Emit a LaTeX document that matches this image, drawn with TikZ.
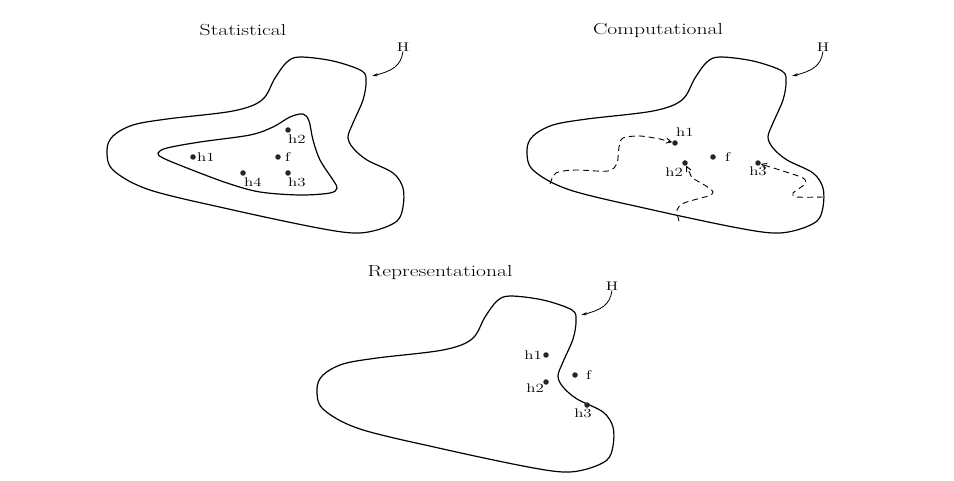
\documentclass[tikz,border=0pt]{standalone}
\usetikzlibrary{arrows.meta}
\newcommand{\myw}[1]{\scalebox{1.35}[1]{#1}}
\begin{document}
\begin{tikzpicture}[x=1pt,y=-1pt,
  outline/.style={line width=1.2pt, line join=round},
  dotst/.style={circle,fill=black!85,inner sep=0pt,minimum size=5.5pt},
  lbl/.style={font=\fontsize{12.5}{14}\selectfont, inner sep=1pt},
  ttl/.style={font=\fontsize{16}{19}\selectfont, inner sep=0pt},
  hlab/.style={font=\fontsize{12.5}{14}\selectfont, inner sep=0pt},
  harrow/.style={line width=0.8pt, -{Stealth[length=6pt,width=3pt]}},
  walk/.style={dash pattern=on 6pt off 4pt, line width=0.9pt, -{Straight Barb[length=5pt,width=5pt]}}]
\path[fill=white] (0,0) rectangle (954,481);
\def\outer{plot[smooth cycle, tension=0.55] coordinates {(107,150) (113,136) (133,125) (167,119) (233,111) (262,100) (275,78) (287,62) (300,57) (333,61) (362,71) (366,82) (363,100) (353,123) (348,137) (353,148) (367,160) (393,173) (403,188) (403,207) (397,221) (377,230) (353,233) (313,227) (233,210) (150,190) (113,170)}}

% ---------- Statistical ----------
\node[ttl] (t1) at (243,30) {\myw{Statistical}};
\draw[outline] \outer;
\draw[outline] plot[smooth cycle, tension=0.55] coordinates {(158,153) (167,148) (200,142) (250,135) (273,127) (290,117) (303,114) (309,121) (313,140) (320,160) (333,180) (337,188) (330,193) (300,195) (260,192) (227,183) (187,168) (163,158)};
\node[hlab] (H1) at (403,47) {\myw{H}};
\coordinate (H1tip) at (372,76);
\draw[harrow] (H1.south) .. controls (401,66) and (392,71) .. (H1tip);
\node[dotst] (s1) at (193,157) {};
\node[lbl,anchor=west] (s1l) at (s1.east) {\myw{h1}};
\node[dotst] (s2) at (288,130) {};
\node[lbl,anchor=north west] (s2l) at ([xshift=-1pt,yshift=-1pt]s2.south) {\myw{h2}};
\node[dotst] (sf) at (278,157) {};
\node[lbl,anchor=west] (sfl) at ([xshift=3pt]sf.east) {\myw{f}};
\node[dotst] (s4) at (243,173) {};
\node[lbl,anchor=north west] (s4l) at ([xshift=0pt,yshift=-1pt]s4.south) {\myw{h4}};
\node[dotst] (s3) at (288,173) {};
\node[lbl,anchor=north west] (s3l) at ([xshift=-1pt,yshift=-1pt]s3.south) {\myw{h3}};

% ---------- Computational ----------
\node[ttl] (t2) at (658,30) {\myw{Computational}};
\begin{scope}[shift={(420,0)}]
\draw[outline] \outer;
\end{scope}
\node[hlab] (H2) at (823,47) {\myw{H}};
\coordinate (H2tip) at (792,76);
\draw[harrow] (H2.south) .. controls (821,66) and (812,71) .. (H2tip);
\node[dotst] (c1) at (675,143) {};
\node[lbl,anchor=south west] (c1l) at ([xshift=0pt,yshift=2pt]c1.north) {\myw{h1}};
\node[dotst] (c2) at (685,163) {};
\node[lbl,anchor=north east] (c2l) at ([xshift=-1pt,yshift=-1pt]c2.south) {\myw{h2}};
\node[dotst] (cf) at (713,157) {};
\node[lbl,anchor=west] (cfl) at ([xshift=8pt]cf.east) {\myw{f}};
\node[dotst] (c3) at (758,163) {};
\node[lbl,anchor=north] (c3l) at ([yshift=0pt]c3.south) {\myw{h3}};
\coordinate (w1s) at (550,184);
\coordinate (w2s) at (679,221);
\coordinate (w3s) at (823,197);
\draw[walk] plot[smooth, tension=0.5] coordinates {(w1s) (556,173) (575,170) (608,171) (617,163) (619,147) (623,138) (640,136) (660,139)} -- (c1);
\draw[walk] plot[smooth, tension=0.5] coordinates {(w2s) (677,210) (684,203) (708,196) (713,192) (706,186) (692,178)} -- (c2);
\draw[walk] plot[smooth, tension=0.5] coordinates {(w3s) (797,197) (793,193) (805,184) (803,178) (783,171) (770,167)} -- (c3);

% ---------- Representational ----------
\node[ttl] (t3) at (440,273) {\myw{Representational}};
\begin{scope}[shift={(210,239)}]
\draw[outline] \outer;
\end{scope}
\node[hlab] (H3) at (612,286) {\myw{H}};
\coordinate (H3tip) at (581,315);
\draw[harrow] (H3.south) .. controls (610,305) and (601,310) .. (H3tip);
\node[dotst] (r1) at (546,355) {};
\node[lbl,anchor=east] (r1l) at (r1.west) {\myw{h1}};
\node[dotst] (r2) at (546,382) {};
\node[lbl,anchor=north east] (r2l) at ([xshift=-1pt,yshift=2pt]r2.south) {\myw{h2}};
\node[dotst] (rf) at (575,375) {};
\node[lbl,anchor=west] (rfl) at ([xshift=7pt]rf.east) {\myw{f}};
\node[dotst] (r3) at (587,405) {};
\node[lbl,anchor=north] (r3l) at ([xshift=-4pt,yshift=0pt]r3.south) {\myw{h3}};
\end{tikzpicture}
\end{document}
